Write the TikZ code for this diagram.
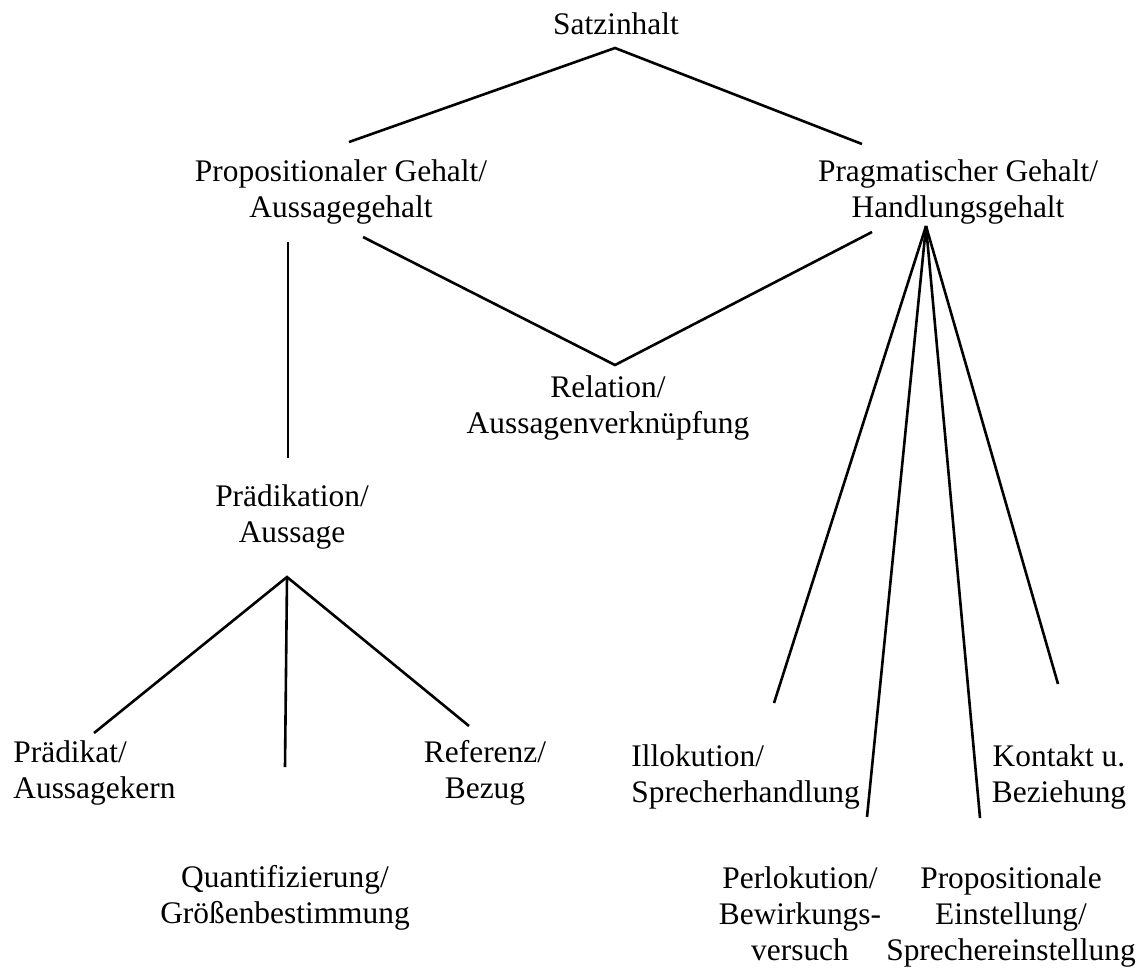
\documentclass[tikz,border=0pt]{standalone}
\usepackage{fontspec}
\setmainfont{Liberation Serif}
\begin{document}
\begin{tikzpicture}[x=0.5pt, y=-0.5pt,
    term/.style={align=center, inner sep=0pt, anchor=base, font=\fontsize{15.7}{18}\selectfont},
    leftterm/.style={term, align=left, anchor=base west},
    branch/.style={line width=1.3pt}]
    \useasboundingbox (0,0) rectangle (1138,971);

    % labels (anchored at the baseline of the last line)
    \node[term] (satz) at (616,34) {Satzinhalt};
    \node[term] (prop) at (341,217) {Propositionaler Gehalt/\\Aussagegehalt};
    \node[term] (prag) at (958,217) {Pragmatischer Gehalt/\\Handlungsgehalt};
    \node[term] (rel) at (608,433) {Relation/\\Aussagenverknüpfung};
    \node[term] (praedikation) at (292,542) {Prädikation/\\Aussage};
    \node[leftterm] (praedikat) at (13,798) {Prädikat/\\Aussagekern};
    \node[term] (referenz) at (485,798) {Referenz/\\Bezug};
    \node[term] (quant) at (285,923) {Quantifizierung/\\Größenbestimmung};
    \node[leftterm] (illok) at (631,802) {Illokution/\\Sprecherhandlung};
    \node[term] (kontakt) at (1059,802) {Kontakt u.\\Beziehung};
    \node[term] (perlok) at (800,960) {Perlokution/\\Bewirkungs-\\versuch};
    \node[term] (einst) at (1011,960) {Propositionale\\Einstellung/\\Sprechereinstellung};

    % line ends
    \coordinate (satzfoot) at (615,48);
    \coordinate (proptop) at (349,142);
    \coordinate (pragtop) at (862,144);
    \coordinate (propfoot) at (288,242);
    \coordinate (propfoot2) at (363,237);
    \coordinate (pragfoot) at (872,232);
    \coordinate (pragfan) at (926,226);
    \coordinate (reltop) at (615,365);
    \coordinate (praedtop) at (288,458);
    \coordinate (praedfoot) at (287,577);
    \coordinate (praedikattop) at (94,733);
    \coordinate (quanttop) at (285,767);
    \coordinate (referenztop) at (469,726);
    \coordinate (illoktop) at (774,703);
    \coordinate (perloktop) at (867,817);
    \coordinate (einsttop) at (980,818);
    \coordinate (kontakttop) at (1058,684);

    % tree
    \draw[branch] (proptop) -- (satzfoot) -- (pragtop);
    \draw[branch] (propfoot2) -- (reltop) -- (pragfoot);
    \draw[branch] (propfoot) -- (praedtop);
    \draw[branch] (praedikattop) -- (praedfoot) -- (referenztop);
    \draw[branch] (praedfoot) -- (quanttop);
    \foreach \leaf in {illoktop, perloktop, einsttop, kontakttop}
        \draw[branch] (pragfan) -- (\leaf);
\end{tikzpicture}
\end{document}
